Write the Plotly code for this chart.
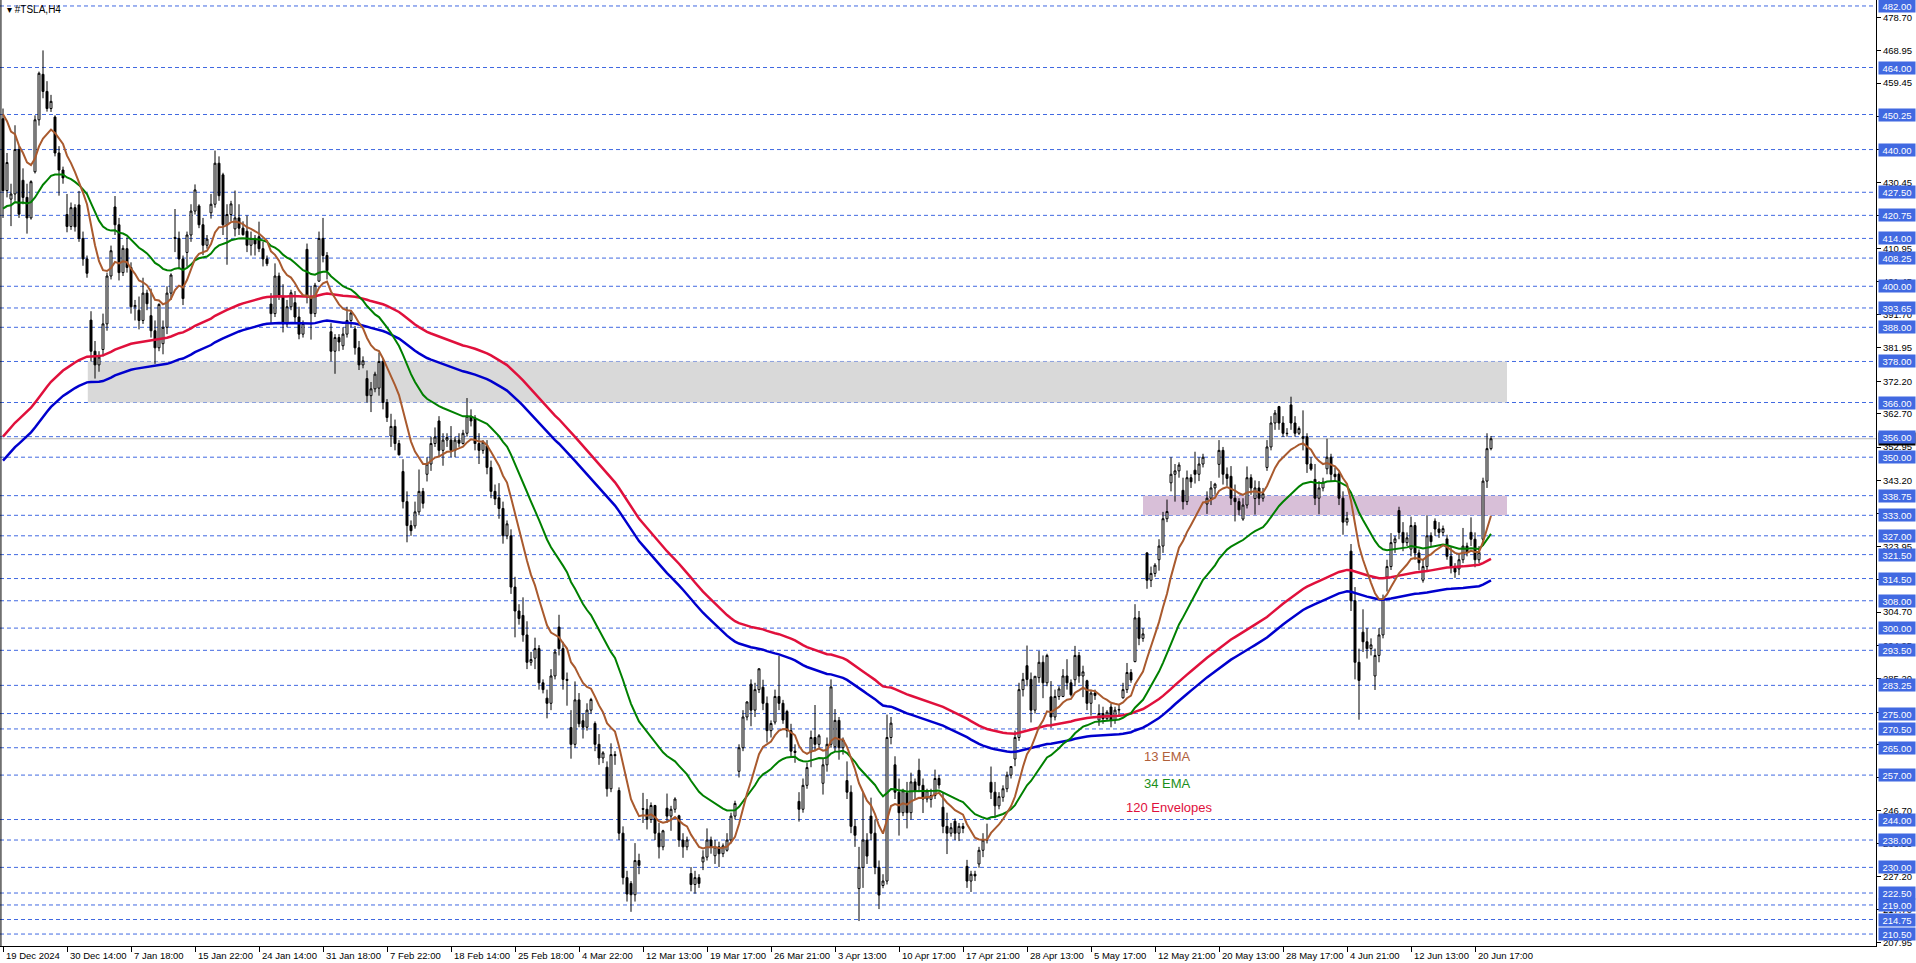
import plotly.graph_objects as go

# ---------------- data (H4 bars of #TSLA, 19 Dec 2024 - 23 Jun 2025) ----------------
OPEN = [
 449.0,428.0, 425.5,427.0,440.0, 431.0,426.0,420.0, 433.5,448.7, 462.0,457.0,452.0, 449.5,439.0,434.0, 421.0,417.5,423.0, 423.8,414.0,408.0,
 390.1,381.0,377.0, 381.5,389.0,403.0, 423.2,418.0,404.0, 411.0,405.5,394.0, 393.0,390.0,398.0, 391.4,387.0,382.0, 383.2,388.0,398.0, 414.3,414.0,408.0, 409.9,415.0,422.0, 423.5,418.0,412.0, 421.5,424.0,436.0, 432.6,418.0,421.0, 416.8,420.0,417.0, 416.1,412.0,414.0, 414.5,411.0,408.0, 394.8,392.0,403.0, 396.9,389.0,394.0, 395.2,391.0,386.0, 410.8,397.0,392.0, 401.5,414.0,409.0,
 386.7,381.0,385.0, 382.6,386.0,390.0, 387.5,382.0,377.0, 373.0,368.0,370.0, 370.2,378.0,366.0, 356.2,359.0,354.0, 345.8,337.0,330.0, 329.9,334.0,340.0, 345.0,348.0,354.0, 360.6,352.0,355.0, 355.0,352.0,355.0, 354.0,357.0,362.0, 361.5,354.0,352.0, 353.4,347.0,340.0, 338.1,335.0,327.0, 327.0,312.0,305.0, 303.7,298.0,290.0, 291.2,294.0,284.0, 279.5,278.0,286.0,
 300.3,294.0,285.0, 270.9,266.0,279.0, 272.9,271.0,276.0, 272.1,266.0,262.0, 259.3,253.0,263.0, 252.5,240.0,227.0, 225.3,222.0,232.0, 247.2,247.0,244.0, 248.1,240.0,236.0, 247.3,245.0,247.0, 245.1,238.0,236.0, 228.2,225.0,227.0, 231.6,233.0,238.0, 233.4,236.0,234.0, 235.0,238.0,245.0, 258.1,265.0,274.0, 283.6,276.0,282.0, 282.7,278.0,270.0, 272.5,280.0,278.0, 275.6,270.0,264.0, 249.3,247.0,254.0,
 263.8,268.0,266.0, 254.6,260.0,266.0, 265.3,273.0,265.0, 255.4,252.0,242.0, 223.8,230.0,238.0, 245.0,240.0,230.0, 224.7,226.0,268.0, 260.0,252.0,246.0, 251.8,246.0,255.0, 258.4,254.0,250.0, 249.9,251.0,256.0, 247.6,242.0,240.0, 243.5,240.0,242.0, 230.3,226.0,228.0, 231.0,235.0,238.0, 254.9,252.0,248.0, 250.5,253.0,257.0, 261.7,268.0,282.0, 289.0,285.0,276.0, 285.5,290.0,284.0, 279.9,274.0,280.0,
 280.0,286.0,284.0, 284.9,292.0,286.0, 284.6,278.0,281.0, 273.1,275.0,273.5, 276.9,273.0,276.0, 279.6,282.0,287.0, 290.2,303.0,297.0, 322.0,314.0,316.0, 320.0,324.0,332.0, 342.5,345.0,346.0, 340.3,337.0,344.0, 346.2,345.0,348.0, 336.3,338.0,341.0, 347.9,352.0,345.0, 344.4,338.0,337.0, 331.9,336.0,344.0, 337.9,341.0,338.0, 347.0,353.0,360.0, 364.8,360.0,357.0, 365.3,360.0,357.0, 355.5,356.0,348.0,
 343.5,338.0,341.0, 346.6,350.0,345.0, 345.1,338.0,331.0, 322.5,308.0,290.0, 298.8,296.0,294.0, 286.0,292.0,298.0, 314.9,318.0,325.0, 334.4,328.0,325.0, 323.1,330.0,322.0, 314.0,318.0,327.0, 331.3,329.0,328.0, 326.1,321.0,318.0, 317.3,320.0,324.0, 328.0,326.0,320.0, 326.0,343.0,352.5]

HIGH = [
 452.0,439.0, 430.0,447.1,441.0, 434.5,430.0,431.0, 450.0,462.8, 469.0,460.0,456.0, 450.0,441.0,435.0, 427.0,424.5,424.0, 427.9,416.0,409.0,
 392.7,384.0,381.0, 392.0,404.0,411.9, 426.4,420.0,412.0, 414.3,407.0,396.0, 397.0,402.5,399.0, 399.3,390.0,395.0, 390.0,400.0,403.8, 422.6,416.0,409.0, 416.0,424.0,429.8, 424.0,420.0,415.0, 427.0,439.7,438.0, 433.2,424.0,425.0, 428.0,424.0,419.0, 420.7,416.0,415.0, 418.9,413.0,409.0, 398.0,406.7,404.0, 400.6,396.0,399.0, 398.6,394.0,390.0, 412.5,400.0,401.0, 416.0,420.0,410.0,
 389.2,386.0,386.0, 388.0,394.0,393.0, 388.4,384.0,379.5, 375.4,372.0,375.0, 380.6,379.0,367.0, 362.7,361.0,355.0, 349.4,340.0,331.5, 337.0,346.4,341.0, 350.0,356.0,358.7, 362.0,357.0,357.0, 359.1,356.0,357.0, 358.0,367.3,364.0, 362.3,357.0,355.0, 355.0,349.0,342.0, 342.4,337.0,331.5, 328.9,315.0,307.0, 309.0,302.0,293.0, 297.2,295.0,285.0, 282.0,288.0,293.9,
 303.9,296.0,287.0, 276.0,284.4,281.0, 275.0,278.0,279.6, 272.7,269.0,264.0, 261.0,266.3,264.0, 253.4,242.0,229.0, 226.0,237.1,234.0, 251.8,250.0,249.0, 248.3,243.0,241.0, 251.6,248.0,250.5, 245.4,240.0,239.0, 230.1,229.0,228.0, 235.0,241.4,239.0, 238.0,237.5,237.0, 240.0,246.0,249.5, 266.0,276.0,278.6, 285.0,284.0,288.2, 284.9,280.0,273.0, 282.0,291.9,279.0, 276.1,272.0,266.0, 252.0,256.0,260.6,
 270.0,277.5,269.0, 262.0,268.0,285.0, 276.3,274.0,268.0, 261.0,254.0,244.0, 236.0,252.0,240.0, 250.4,244.0,232.0, 228.0,274.7,274.0, 262.5,256.0,253.0, 255.0,257.7,256.0, 261.8,256.0,253.0, 253.0,258.6,257.0, 252.0,246.0,243.0, 244.3,243.0,243.0, 232.2,229.0,229.0, 236.0,240.0,242.8, 259.5,255.0,252.0, 254.0,258.0,259.5, 270.0,284.0,286.9, 294.9,287.0,286.0, 293.3,292.0,292.5, 284.5,282.0,283.0,
 288.0,290.9,285.0, 294.8,293.0,289.0, 284.9,282.0,282.0, 277.7,277.0,276.0, 277.9,277.0,277.5, 284.0,289.8,288.0, 307.0,305.0,300.0, 322.2,318.0,319.0, 326.0,334.0,337.6, 350.0,348.0,348.5, 344.0,346.1,345.0, 351.6,350.0,351.0, 340.0,343.0,342.5, 355.0,353.0,347.0, 347.4,342.0,338.0, 338.0,347.3,345.0, 343.2,343.0,341.0, 355.0,362.0,363.8, 365.0,362.0,358.5, 367.7,362.0,359.0, 363.7,357.0,350.0,
 348.0,343.0,344.0, 355.4,351.0,347.0, 345.6,340.0,334.0, 324.6,312.0,294.0, 305.5,300.0,297.0, 294.0,300.0,309.8, 320.0,327.8,327.0, 335.5,331.0,328.0, 332.6,331.0,323.0, 320.0,333.0,328.0, 332.1,331.0,330.0, 327.3,324.0,319.0, 322.0,329.3,325.0, 332.4,328.0,324.0, 344.0,357.0,356.2]

LOW = [
 420.0,426.0, 417.6,425.0,420.0, 424.0,415.4,419.5, 433.0,447.0, 455.0,451.1,451.0, 438.0,426.5,430.0, 415.8,416.5,416.0, 413.0,406.0,402.5,
 378.0,373.0,375.0, 379.5,387.0,402.0, 415.0,401.7,403.0, 404.0,392.0,390.0, 387.4,389.0,393.0, 385.0,377.3,381.0, 380.1,386.0,396.0, 410.0,405.0,394.5, 405.7,413.0,421.0, 417.0,409.1,411.0, 419.8,423.0,425.0, 415.0,406.3,419.0, 414.6,415.0,414.8, 410.0,409.0,409.0, 410.0,405.8,405.9, 389.0,391.0,396.0, 386.5,388.0,393.0, 389.0,384.5,385.0, 395.0,384.4,391.0, 401.3,407.0,402.0,
 378.0,374.4,381.0, 381.4,385.0,388.0, 380.0,375.5,376.0, 366.0,363.2,369.0, 368.0,364.0,360.3, 353.0,352.0,350.5, 335.0,325.1,327.0, 329.1,333.0,335.0, 342.9,346.0,353.0, 350.0,347.5,353.0, 350.0,350.0,353.0, 353.7,356.0,359.0, 352.0,348.0,351.0, 345.0,338.0,336.0, 332.0,324.7,326.0, 310.0,297.3,301.0, 296.0,288.0,289.0, 288.0,282.0,280.9, 273.6,276.0,285.0,
 292.0,282.0,277.3, 261.8,265.0,271.0, 267.7,270.0,275.0, 264.0,260.0,260.5, 250.7,252.0,260.0, 238.0,225.0,220.0, 217.0,220.0,228.0, 243.0,241.1,243.0, 238.0,232.6,235.0, 243.0,240.7,246.0, 236.0,232.8,235.0, 223.0,222.3,224.0, 229.2,232.0,234.0, 231.0,230.1,233.0, 234.6,237.0,244.0, 256.3,264.0,273.0, 271.3,274.0,281.0, 276.0,266.5,268.0, 271.8,276.0,272.0, 268.0,262.0,260.6, 243.4,246.0,253.0,
 259.3,264.0,265.0, 251.3,258.0,265.0, 264.0,261.5,263.0, 250.0,240.0,236.0, 214.3,224.0,231.0, 238.0,228.0,217.8, 223.9,225.0,266.0, 250.0,239.3,245.0, 241.4,244.0,250.0, 252.0,245.9,249.0, 247.5,250.0,253.0, 240.0,233.9,239.0, 238.0,237.7,240.0, 224.0,222.8,226.0, 229.9,233.0,237.0, 250.0,244.4,247.0, 249.2,252.0,256.0, 259.6,267.0,280.0, 283.0,272.4,275.0, 284.0,279.5,283.0, 270.8,273.0,279.0,
 279.8,282.0,280.0, 283.0,284.0,279.8, 276.0,274.4,279.0, 271.4,272.0,273.0, 271.0,272.0,274.5, 279.4,281.0,284.0, 290.0,295.0,296.0, 311.5,312.0,315.0, 316.8,322.0,331.0, 340.0,337.0,344.0, 334.7,336.0,341.0, 342.3,343.0,347.0, 333.4,336.0,339.0, 344.0,342.0,341.6, 336.0,331.2,333.0, 331.4,335.0,339.0, 333.2,336.0,337.0, 346.0,352.0,358.0, 358.0,355.9,356.0, 358.0,356.0,356.5, 352.0,345.4,346.0,
 336.0,333.3,340.0, 345.0,343.0,343.0, 336.0,327.3,330.0, 305.0,285.0,273.2, 293.0,291.1,292.0, 281.9,290.0,297.0, 310.7,317.0,322.0, 326.0,322.5,324.0, 321.0,320.0,316.9, 313.3,317.0,324.0, 327.0,326.4,327.0, 320.0,316.0,314.7, 315.5,319.0,321.0, 324.0,317.8,319.0, 324.1,341.0,352.0]

CLOSE = [
 428.0,436.2, 427.0,440.0,421.1, 426.0,420.0,430.6, 448.7,462.3, 457.0,452.0,454.1, 439.0,434.0,431.7, 417.5,423.0,417.4, 414.0,408.0,403.8,
 381.0,377.0,379.3, 389.0,403.0,410.4, 418.0,404.0,411.1, 405.5,394.0,394.4, 390.0,398.0,394.9, 387.0,382.0,394.7, 388.0,398.0,403.3, 414.0,408.0,396.4, 415.0,422.0,428.2, 418.0,412.0,413.8, 424.0,436.0,426.5, 418.0,421.0,424.1, 420.0,417.0,415.1, 412.0,414.0,412.4, 411.0,408.0,406.6, 392.0,403.0,397.2, 389.0,394.0,398.1, 391.0,386.0,389.1, 397.0,392.0,400.3, 414.0,409.0,404.6,
 381.0,385.0,383.7, 386.0,390.0,392.2, 382.0,377.0,378.2, 368.0,370.0,374.3, 378.0,366.0,361.6, 359.0,354.0,350.7, 337.0,330.0,328.5, 334.0,340.0,336.5, 348.0,354.0,355.9, 352.0,355.0,355.8, 352.0,355.0,354.1, 357.0,362.0,360.6, 354.0,352.0,354.4, 347.0,340.0,337.8, 335.0,327.0,330.5, 312.0,305.0,302.8, 298.0,290.0,290.8, 294.0,284.0,282.0, 278.0,286.0,293.0,
 294.0,285.0,284.7, 266.0,279.0,272.0, 271.0,276.0,279.1, 266.0,262.0,263.5, 253.0,263.0,262.7, 240.0,227.0,222.2, 222.0,232.0,230.6, 247.0,244.0,248.1, 240.0,236.0,240.7, 245.0,247.0,250.0, 238.0,236.0,238.0, 225.0,227.0,225.3, 233.0,238.0,235.9, 236.0,234.0,236.3, 238.0,245.0,248.7, 265.0,274.0,278.4, 276.0,282.0,288.1, 278.0,270.0,272.1, 280.0,278.0,273.1, 270.0,264.0,263.6, 247.0,254.0,259.2,
 268.0,266.0,268.5, 260.0,266.0,282.8, 273.0,265.0,267.3, 252.0,242.0,239.4, 230.0,238.0,233.3, 240.0,230.0,221.9, 226.0,268.0,272.2, 252.0,246.0,252.4, 246.0,255.0,252.3, 254.0,250.0,252.4, 251.0,256.0,254.1, 242.0,240.0,241.6, 240.0,242.0,241.4, 226.0,228.0,227.5, 235.0,238.0,238.0, 252.0,248.0,250.7, 253.0,257.0,259.5, 268.0,282.0,285.0, 285.0,276.0,285.9, 290.0,284.0,292.0, 274.0,280.0,282.2,
 286.0,284.0,280.5, 292.0,286.0,287.2, 278.0,281.0,280.3, 275.0,273.5,275.4, 273.0,276.0,276.2, 282.0,287.0,284.8, 303.0,297.0,298.3, 314.0,316.0,318.4, 324.0,332.0,334.1, 345.0,346.0,347.7, 337.0,344.0,342.8, 345.0,348.0,350.0, 338.0,341.0,342.1, 352.0,345.0,343.8, 338.0,337.0,334.6, 336.0,344.0,341.0, 341.0,338.0,339.3, 353.0,360.0,362.9, 360.0,357.0,356.9, 360.0,357.0,358.4, 356.0,348.0,346.5,
 338.0,341.0,342.7, 350.0,345.0,344.3, 338.0,331.0,332.1, 308.0,290.0,284.7, 296.0,294.0,295.1, 292.0,298.0,308.6, 318.0,325.0,326.1, 328.0,325.0,326.4, 330.0,322.0,319.1, 318.0,327.0,325.3, 329.0,328.0,329.1, 321.0,318.0,316.4, 320.0,324.0,322.1, 326.0,320.0,322.2, 343.0,352.5,355.4]

TIME_LABELS = ["19 Dec 2024", "30 Dec 14:00", "7 Jan 18:00", "15 Jan 22:00", "24 Jan 14:00",
               "31 Jan 18:00", "7 Feb 22:00", "18 Feb 14:00", "25 Feb 18:00", "4 Mar 22:00",
               "12 Mar 13:00", "19 Mar 17:00", "26 Mar 21:00", "3 Apr 13:00", "10 Apr 17:00",
               "17 Apr 21:00", "28 Apr 13:00", "5 May 17:00", "12 May 21:00", "20 May 13:00",
               "28 May 17:00", "4 Jun 21:00", "12 Jun 13:00", "20 Jun 17:00"]
BARS_PER_LABEL = 16

LEVELS = [482.00, 464.00, 450.25, 440.00, 427.50, 420.75, 414.00, 408.25, 400.00, 393.65,
          388.00, 378.00, 366.00, 356.00, 350.00, 338.75, 333.00, 327.00, 321.50, 314.50,
          308.00, 300.00, 293.50, 283.25, 275.00, 270.50, 265.00, 257.00, 244.00, 238.00,
          230.00, 222.50, 219.00, 214.75, 210.50]

PRICE_TICKS = [478.70, 468.95, 459.45, 449.70, 439.95, 430.45, 420.70, 410.95, 401.45, 391.70,
               381.95, 372.20, 362.70, 352.95, 343.20, 333.45, 323.95, 314.20, 304.70, 294.95,
               285.20, 275.45, 265.95, 256.20, 246.70, 236.95, 227.20, 217.70, 207.95]

GRAY_ZONE = (366.0, 378.0)
PURPLE_ZONE = (333.0, 338.75)
BID = 355.4

EMA13_START, EMA34_START = 450.3, 422.7
ENV_MID_START, ENV_PERIOD, ENV_DEV_PCT = 352.5, 120, 1.0

# ---------------- indicators ----------------
def ema(values, period, start):
    a = 2.0 / (period + 1)
    out = [start]
    for v in values[1:]:
        out.append(out[-1] + a * (v - out[-1]))
    return out

N = len(CLOSE)
xs = list(range(N))
ema13 = ema(CLOSE, 13, EMA13_START)
ema34 = ema(CLOSE, 34, EMA34_START)
mid = ema(CLOSE, ENV_PERIOD, ENV_MID_START)
env_up = [m * (1 + ENV_DEV_PCT / 100) for m in mid]
env_dn = [m * (1 - ENV_DEV_PCT / 100) for m in mid]

# ---------------- figure ----------------
W, H = 1916, 963
PLOT_W, PLOT_H = 1876, 946
PX_PER_BAR = 4.0
X0 = -0.75
XR = [X0, X0 + PLOT_W / PX_PER_BAR]
YR = [207.0, 483.75]
FONT = "Liberation Sans, Arial, sans-serif"

fig = go.Figure()
fig.add_trace(go.Candlestick(
    x=xs, open=OPEN, high=HIGH, low=LOW, close=CLOSE,
    increasing=dict(line=dict(color="black", width=1), fillcolor="white"),
    decreasing=dict(line=dict(color="black", width=1), fillcolor="black"),
    whiskerwidth=0, showlegend=False, hoverinfo="skip"))

for ys, col, w in [(env_dn, "#0000CD", 2.5), (env_up, "#E0103C", 2.5),
                   (ema34, "#008000", 2), (ema13, "#A95A2E", 2)]:
    fig.add_trace(go.Scatter(x=xs, y=ys, mode="lines", line=dict(color=col, width=w),
                             showlegend=False, hoverinfo="skip"))

shapes = []
shapes.append(dict(type="rect", xref="x", yref="y", x0=21.2, x1=376, y0=GRAY_ZONE[0], y1=GRAY_ZONE[1],
                   fillcolor="#D9D9D9", line=dict(width=0), layer="below"))
shapes.append(dict(type="rect", xref="x", yref="y", x0=285, x1=376, y0=PURPLE_ZONE[0], y1=PURPLE_ZONE[1],
                   fillcolor="#D8BFD8", line=dict(width=0), layer="below"))
for lv in LEVELS:
    shapes.append(dict(type="line", xref="paper", yref="y", x0=0, x1=1, y0=lv, y1=lv,
                       line=dict(color="#4169E1", width=1, dash="4px,3px"), layer="below"))
shapes.append(dict(type="line", xref="paper", yref="y", x0=0, x1=1, y0=BID, y1=BID,
                   line=dict(color="#B8B8B8", width=1), layer="below"))
shapes.append(dict(type="line", xref="paper", yref="paper", x0=0.0005, x1=0.0005, y0=0, y1=1,
                   line=dict(color="black", width=1)))

ann = []
# black bid label (mostly hidden under the blue labels)
ann.append(dict(x=1, xref="paper", y=BID, yref="y", xanchor="left", yanchor="middle", xshift=2,
                text=f"{BID:.2f}", showarrow=False, bgcolor="black", width=36, height=12, borderpad=0,
                font=dict(family=FONT, size=9.5, color="white")))
for lv in LEVELS:
    ann.append(dict(x=1, xref="paper", y=lv, yref="y", xanchor="left", yanchor="middle", xshift=2,
                    text=f"{lv:.2f}", showarrow=False, bgcolor="#4169E1", width=36, height=12,
                    borderpad=0, font=dict(family=FONT, size=9.5, color="white")))
for i, lab in enumerate(TIME_LABELS):
    ann.append(dict(x=i * BARS_PER_LABEL, xref="x", y=0, yref="paper", xanchor="left", yanchor="top",
                    xshift=1, yshift=-2, text=lab, showarrow=False,
                    font=dict(family=FONT, size=9.5, color="black")))
ann.append(dict(x=0, xref="paper", y=1, yref="paper", xanchor="left", yanchor="top", xshift=5, yshift=-2,
                text="▾ #TSLA,H4", showarrow=False, font=dict(family=FONT, size=10, color="black")))
for txt, col, xb, yp in [("13 EMA", "#B0603A", 291.0, 262.3), ("34 EMA", "#1A8F1A", 291.0, 254.6),
                         ("120 Envelopes", "#E0103C", 291.7, 247.6)]:
    ann.append(dict(x=xb, xref="x", y=yp, yref="y", xanchor="center", yanchor="middle", text=txt,
                    showarrow=False, font=dict(family=FONT, size=13, color=col)))

fig.update_layout(
    width=W, height=H, margin=dict(l=0, r=W - PLOT_W, t=0, b=H - PLOT_H),
    paper_bgcolor="white", plot_bgcolor="white", shapes=shapes, annotations=ann,
    showlegend=False, hovermode=False,
    xaxis=dict(range=XR, showgrid=False, zeroline=False, rangeslider=dict(visible=False),
               showline=True, linecolor="black", linewidth=1, mirror=False,
               tickvals=[i * BARS_PER_LABEL for i in range(len(TIME_LABELS))],
               showticklabels=False, ticks="outside", ticklen=5, tickcolor="black"),
    yaxis=dict(range=YR, side="right", showgrid=False, zeroline=False, showline=True,
               linecolor="black", linewidth=1, tickvals=PRICE_TICKS,
               ticktext=[f"{v:.2f}" for v in PRICE_TICKS], ticks="outside", ticklen=4,
               tickcolor="black", tickfont=dict(family=FONT, size=9.5, color="black")),
)
fig.write_html("out.html", config={"displayModeBar": False},
               post_script="document.body.style.margin='0px';document.body.style.overflow='hidden';")
